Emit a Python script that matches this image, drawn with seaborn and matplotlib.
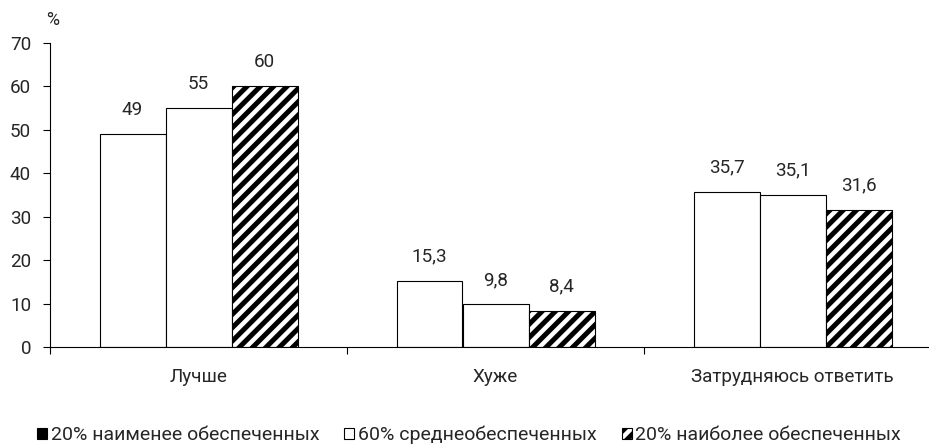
import pandas as pd
import matplotlib.pyplot as plt
import seaborn as sns
from matplotlib.patches import Patch

# ── Data ──────────────────────────────────────────────────────────────────────
categories = ["Лучше", "Хуже", "Затрудняюсь ответить"]
groups = ["20% наименее обеспеченных", "60% среднеобеспеченных", "20% наиболее обеспеченных"]
low_income = [49, 15.3, 35.7]
mid_income = [55, 9.8, 35.1]
high_income = [60, 8.4, 31.6]
y_ticks = [0, 10, 20, 30, 40, 50, 60, 70]

df = pd.DataFrame({
    "category": categories * 3,
    "group": [g for g in groups for _ in categories],
    "value": low_income + mid_income + high_income,
})

# ── Setup ─────────────────────────────────────────────────────────────────────
sns.set_theme(style="white")
plt.rcParams.update({"font.family": ["Roboto", "DejaVu Sans"], "hatch.linewidth": 4.5})

DPI = 80
fig = plt.figure(figsize=(929 / DPI, 444 / DPI), dpi=DPI)
ax = fig.add_axes([50 / 929, 97 / 444, 891 / 929, 304 / 444])

sns.barplot(data=df, x="category", y="value", hue="group", order=categories,
            hue_order=groups, palette=["white"] * 3, edgecolor="black",
            linewidth=1.0, width=2 / 3, legend=False, saturation=1, ax=ax)

for bar in ax.containers[2]:
    bar.set_hatch("//")

for cont in ax.containers:
    labels = [f"{b.get_height():g}".replace(".", ",") for b in cont]
    ax.bar_label(cont, labels=labels, padding=14, fontsize=17)

ax.set_xlim(-0.5, 2.5)
ax.set_ylim(0, 70)
ax.set_yticks(y_ticks)
ax.set_xlabel("")
ax.set_ylabel("")
ax.set_xticks([-0.5, 0.5, 1.5, 2.5], minor=True)
ax.tick_params(axis="x", which="major", length=0, pad=19, labelsize=17)
ax.tick_params(axis="x", which="minor", length=6, width=1, direction="out", color="black", bottom=True)
ax.tick_params(axis="y", length=6, width=1, direction="out", color="black", left=True, pad=11, labelsize=17)

for s in ["top", "right"]:
    ax.spines[s].set_visible(False)
for s in ["left", "bottom"]:
    ax.spines[s].set_color("black")
    ax.spines[s].set_linewidth(1.0)

fig.text(46 / 929, 1 - 20 / 444, "%", fontsize=16, va="center", ha="left")

# legend: first marker drawn solid as in the original
handles = [
    Patch(facecolor="black", edgecolor="black", linewidth=1),
    Patch(facecolor="white", edgecolor="black", linewidth=1),
    Patch(facecolor="white", edgecolor="black", linewidth=1, hatch="//"),
]
fig.legend(handles, groups, loc="center", bbox_to_anchor=(469 / 929, 1 - 435 / 444),
           ncol=3, frameon=False, fontsize=17.5, handlelength=0.52, handleheight=0.52,
           handletextpad=0.18, columnspacing=1.3)

fig.savefig("out.png", dpi=DPI)
